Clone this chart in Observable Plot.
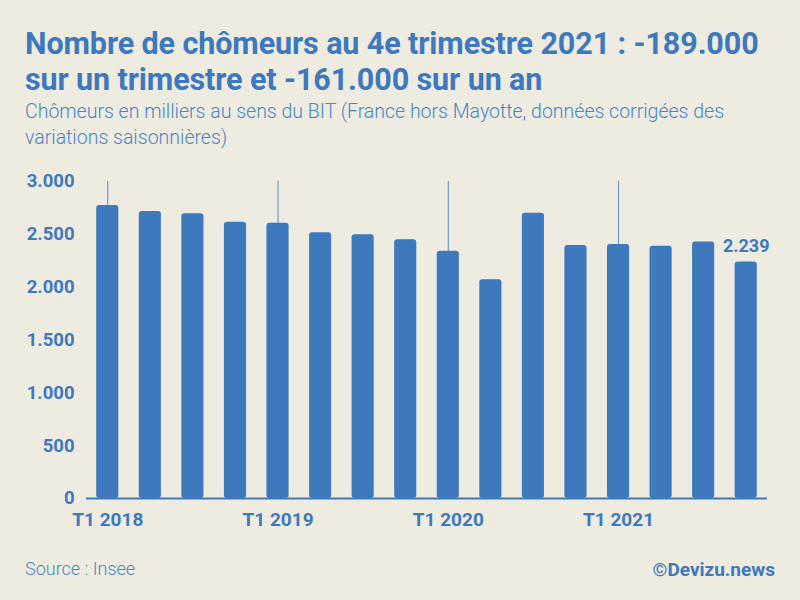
<!DOCTYPE html>
<html><head><meta charset="utf-8">
<script src="https://cdn.jsdelivr.net/npm/d3@7"></script>
<script src="https://cdn.jsdelivr.net/npm/@observablehq/plot@0.6"></script>
<style>
html,body{margin:0;padding:0;}
body{width:800px;height:600px;background:#eeebe0;position:relative;overflow:hidden;font-family:Roboto,"Noto Sans",sans-serif;color:#3d79bc;}
#title{position:absolute;left:25px;top:26px;width:775px;font-weight:700;font-size:30.5px;line-height:36px;color:#3d79bc;letter-spacing:-0.1px;white-space:nowrap;}
#subtitle{position:absolute;left:25px;top:99px;width:700px;font-weight:300;font-size:19.5px;line-height:26px;color:#4a86c5;}
#chart{position:absolute;left:0;top:160px;}
#source{position:absolute;left:25px;top:558px;font-weight:300;font-size:18px;color:#4a86c5;}
#credit{position:absolute;right:25px;top:558px;font-weight:700;font-size:19px;color:#3d79bc;}
</style></head>
<body>
<div id="title">Nombre de chômeurs au 4e trimestre 2021 : -189.000<br>sur un trimestre et -161.000 sur un an</div>
<div id="subtitle">Chômeurs en milliers au sens du BIT (France hors Mayotte, données corrigées des variations saisonnières)</div>
<div id="chart"></div>
<div id="source">Source : Insee</div>
<div id="credit">©Devizu.news</div>
<script>
const quarters = ["T1 2018","T2 2018","T3 2018","T4 2018","T1 2019","T2 2019","T3 2019","T4 2019","T1 2020","T2 2020","T3 2020","T4 2020","T1 2021","T2 2021","T3 2021","T4 2021"];
const chomeurs = [2772, 2716, 2694, 2615, 2606, 2514, 2495, 2448, 2340, 2070, 2700, 2394, 2404, 2388, 2428, 2239];
const yTicks = [0, 500, 1000, 1500, 2000, 2500, 3000];
const xTickLabels = ["T1 2018","T1 2019","T1 2020","T1 2021"];
const lastLabel = "2.239";

const data = quarters.map((q, i) => ({q, v: chomeurs[i]}));
const fmt = d => d3.format(",")(d).replace(/,/g, ".");
const blue = "#3d79bc";

const chart = Plot.plot({
  width: 800,
  height: 380,
  marginLeft: 86,
  marginRight: 33,
  marginTop: 21,
  marginBottom: 42,
  style: {background: "transparent", fontFamily: "Roboto, sans-serif", color: blue, overflow: "visible"},
  x: {domain: quarters, paddingInner: 0.48, paddingOuter: 0.24, round: false, label: null},
  y: {domain: [0, 3000], label: null},
  marks: [
    Plot.ruleX(xTickLabels, {x: d => d, y1: 0, y2: 3000, stroke: "#5b8fcb", strokeWidth: 1}),
    Plot.barY(data, {x: "q", y: "v", fill: blue, rx: 3}),
    Plot.ruleY([0], {stroke: blue, strokeWidth: 2}),
    Plot.axisY({ticks: yTicks, tickFormat: fmt, tickSize: 0, tickPadding: 12, fontSize: 18.5, fontWeight: 700, fill: blue, label: null}),
    Plot.axisX({ticks: xTickLabels, tickSize: 0, tickPadding: 14, fontSize: 19, fontWeight: 700, fill: blue, label: null}),
    Plot.text([data[data.length - 1]], {x: "q", y: "v", text: () => lastLabel, dy: -16, fontSize: 18, fontWeight: 700, fill: blue})
  ]
});
chart.querySelectorAll("text").forEach(t => t.setAttribute("fill", blue));
document.getElementById("chart").appendChild(chart);
</script>
</body></html>
